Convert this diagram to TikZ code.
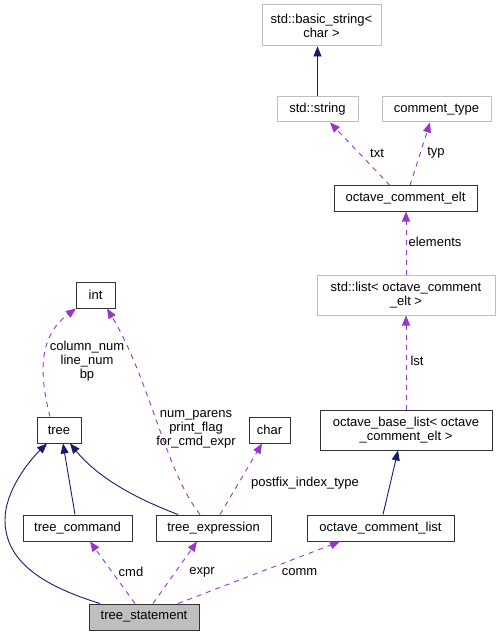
\documentclass[tikz,border=0pt]{standalone}
\usepackage{fontspec}
\setmainfont{Liberation Sans}
\usetikzlibrary{arrows.meta}
\definecolor{navy}{RGB}{25,25,112}
\definecolor{orchid}{RGB}{154,50,205}
\definecolor{lgray}{RGB}{191,191,191}
\begin{document}
\begin{tikzpicture}[x=1pt,y=-1pt,
  font=\fontsize{13}{14}\selectfont,
  box/.style={draw=black!80,line width=1pt,fill=white,inner sep=0pt,align=center,minimum height=26pt},
  gbox/.style={box,draw=lgray},
  inh/.style={draw=navy,line width=0.9pt,-{Triangle[length=10pt,width=8pt]}},
  dep/.style={draw=orchid,line width=0.9pt,dash pattern=on 5pt off 5pt,-{Triangle[length=10pt,width=8pt]}},
  lbl/.style={inner sep=0pt,align=center}]
\useasboundingbox (0,0) rectangle (500,636);
% nodes
\node[gbox,minimum width=119pt,minimum height=41pt] (bstr) at (321.5,25.5) {std::basic\_string<\\char >};
\node[gbox,minimum width=81pt,minimum height=25pt] (str) at (317.5,109.5) {std::string};
\node[gbox,minimum width=109pt,minimum height=25pt] (ctype) at (436.5,109.5) {comment\_type};
\node[box,minimum width=143pt,minimum height=25pt] (celt) at (405.5,198.5) {octave\_comment\_elt};
\node[gbox,minimum width=178pt,minimum height=40pt] (slist) at (406,295) {std::list< octave\_comment\\\_elt >};
\node[box,minimum width=172pt,minimum height=40pt] (blist) at (406,430) {octave\_base\_list< octave\\\_comment\_elt >};
\node[box,minimum width=39pt] (int) at (95.5,295) {int};
\node[box,minimum width=44pt] (tree) at (59,430) {tree};
\node[box,minimum width=41pt] (char) at (269.5,430) {char};
\node[box,minimum width=109pt] (tcmd) at (77.5,528) {tree\_command};
\node[box,minimum width=115pt] (texpr) at (213.5,528) {tree\_expression};
\node[box,minimum width=147pt] (clist) at (380.5,528) {octave\_comment\_list};
\node[box,fill=lgray,minimum width=110pt] (tstmt) at (144,617) {tree\_statement};
% edges
\draw[inh] (str.north) -- (str.north |- bstr.south);
\draw[dep] ([xshift=-15.5pt]celt.north) -- ([xshift=12.5pt]str.south);
\draw[dep] ([xshift=4.5pt]celt.north) -- ([xshift=-6.5pt]ctype.south);
\draw[dep] (slist.north) -- (slist.north |- celt.south);
\draw[dep] (blist.north) -- (slist.south);
\draw[inh] ([xshift=2.5pt]clist.north) -- ([xshift=-8pt]blist.south);
\draw[dep] ([xshift=-9pt]tree.north) .. controls (38,370) and (40,335) .. ([xshift=-19.5pt]int.south);
\draw[dep] ([xshift=-13.5pt]texpr.north) .. controls (165,470) and (150,380) .. ([xshift=11.5pt]int.south);
\draw[dep] ([xshift=6.5pt]texpr.north) -- ([xshift=-7.5pt]char.south);
\draw[inh] ([xshift=-2.5pt]tcmd.north) -- ([xshift=4pt]tree.south);
\draw[inh] ([xshift=-35.5pt]texpr.north) .. controls (140,500) and (100,480) .. ([xshift=11pt]tree.south);
\draw[inh] ([xshift=-44pt]tstmt.north) .. controls (40,585) and (5,560) .. (5,520) .. controls (5,490) and (30,460) .. ([xshift=-12pt]tree.south);
\draw[dep] ([xshift=-9pt]tstmt.north) -- ([xshift=12.5pt]tcmd.south);
\draw[dep] ([xshift=9pt]tstmt.north) -- ([xshift=-16.5pt]texpr.south);
\draw[dep] ([xshift=34pt]tstmt.north) -- ([xshift=-40.5pt]clist.south);
% labels
\node[lbl] (ltxt) at (377,153) {txt};
\node[lbl] (ltyp) at (436,153) {typ};
\node[lbl] (lel) at (435,242) {elements};
\node[lbl] (llst) at (417,361) {lst};
\node[lbl] (lint1) at (87,361) {column\_num\\line\_num\\bp};
\node[lbl] (lint2) at (196,429) {num\_parens\\print\_flag\\for\_cmd\_expr};
\node[lbl] (lpf) at (305,483) {postfix\_index\_type};
\node[lbl] (lcmd) at (131,572) {cmd};
\node[lbl] (lexpr) at (202,572) {expr};
\node[lbl] (lcomm) at (299.5,572) {comm};
\end{tikzpicture}
\end{document}
